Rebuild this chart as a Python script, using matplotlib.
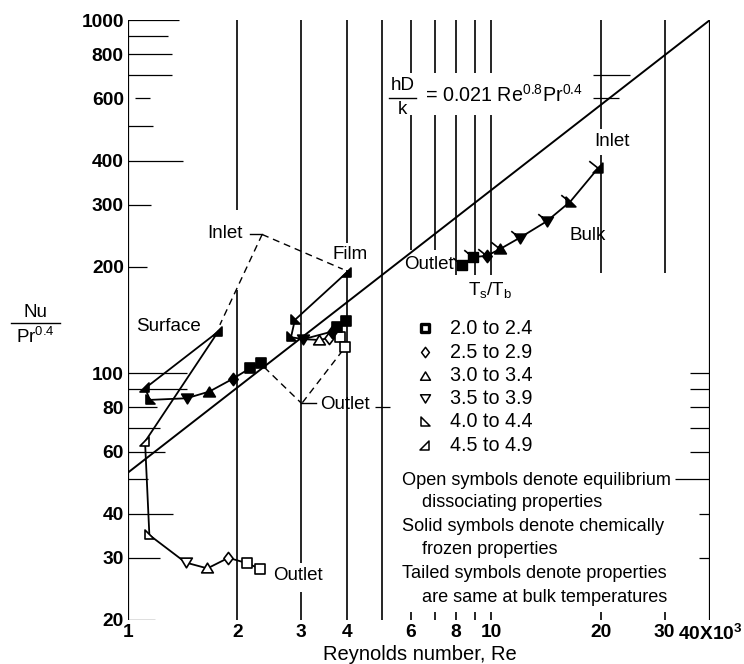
import numpy as np
import matplotlib
matplotlib.use("Agg")
import matplotlib.pyplot as plt
from matplotlib.path import Path
from matplotlib.lines import Line2D
from matplotlib.ticker import FixedLocator, FixedFormatter, NullLocator
from matplotlib import font_manager

_names = {f.name for f in font_manager.fontManager.ttflist}
NARROW = "Liberation Sans Narrow" if "Liberation Sans Narrow" in _names else "Liberation Sans"
TICK_SIZE = 14.5 if NARROW == "Liberation Sans Narrow" else 13.8

plt.rcParams["font.family"] = ["Liberation Sans", "DejaVu Sans"]
plt.rcParams["mathtext.default"] = "regular"

# ---------------------------------------------------------------------------
# Data: Reynolds number (x10^3) and Nu/Pr^0.4, with the Ts/Tb class of each point
# classes: a 2.0-2.4, b 2.5-2.9, c 3.0-3.4, d 3.5-3.9, e 4.0-4.4, f 4.5-4.9
# ---------------------------------------------------------------------------
bulk_re = [8.32, 8.92, 9.73, 10.6, 12.0, 14.2, 16.5, 19.7]
bulk_nu = [203, 213, 215, 225, 242, 269, 306, 381]
bulk_cls = ["a", "a", "b", "c", "d", "d", "e", "f"]

surf_frozen_re = [1.77, 1.114, 1.15, 1.45, 1.675, 1.94, 2.17, 2.325]
surf_frozen_nu = [131, 90.6, 84.0, 84.9, 88.7, 96.3, 103.3, 107.1]
surf_frozen_cls = ["f", "f", "e", "d", "c", "b", "a", "a"]

surf_equil_re = [1.77, 1.114, 1.145, 1.44, 1.654, 1.89, 2.13, 2.31]
surf_equil_nu = [131, 64.0, 34.8, 29.1, 28.0, 30.0, 28.95, 27.9]
surf_equil_cls = [None, "f", "e", "d", "c", "b", "a", "a"]

film_frozen_re = [4.0, 2.88, 2.81, 3.04, 3.64, 3.76, 3.99]
film_frozen_nu = [192.7, 141.5, 126.4, 124.8, 131.1, 135.4, 140.6]
film_frozen_cls = ["f", "e", "e", "d", "b", "a", "a"]

film_equil_re = [3.04, 3.345, 3.585, 3.837, 3.961]
film_equil_nu = [124.8, 124.2, 125.6, 126.4, 118.4]
film_equil_cls = [None, "c", "b", "a", "a"]

ts_classes = ["a", "b", "c", "d", "e", "f"]
ts_labels = ["2.0 to 2.4", "2.5 to 2.9", "3.0 to 3.4", "3.5 to 3.9", "4.0 to 4.4", "4.5 to 4.9"]

x_ticks = [1, 2, 3, 4, 6, 8, 10, 20, 30, 40]
x_tick_labels = ["1", "2", "3", "4", "6", "8", "10", "20", "30", "40X10$^3$"]
y_ticks = [20, 30, 40, 60, 80, 100, 200, 300, 400, 600, 800, 1000]
y_tick_labels = [str(v) for v in y_ticks]

# correlation hD/k = 0.021 Re^0.8 Pr^0.4 in the plotted units
line_re = np.array([1.0, 40.0])
line_nu = 52.3 * line_re ** 0.8

# ---------------------------------------------------------------------------
# Symbol shapes (unit half-size = 1) with an optional tail
# ---------------------------------------------------------------------------
SHAPES = {
    "a": [(-1, -1), (1, -1), (1, 1), (-1, 1)],
    "b": [(0, -1.25), (0.95, 0), (0, 1.25), (-0.95, 0)],
    "c": [(0, 1.1), (-1.2, -0.9), (1.2, -0.9)],
    "d": [(0, -1.1), (-1.2, 0.9), (1.2, 0.9)],
    "e": [(-0.9, 1.1), (-0.9, -0.9), (1.1, -0.9)],
    "f": [(0.9, 1.1), (0.9, -0.9), (-1.1, -0.9)],
}
TAIL = (-1.9, 1.5)
HALF = 3.5  # points per shape unit


def symbol(cls, tailed=False):
    verts = list(SHAPES[cls])
    v = verts + [verts[0]]
    c = [Path.MOVETO] + [Path.LINETO] * (len(verts) - 1) + [Path.CLOSEPOLY]
    if tailed:
        v += [(0, 0), TAIL]
        c += [Path.MOVETO, Path.LINETO]
    path = Path(v, c)
    ms = 2 * HALF * np.max(np.abs(path.vertices))
    return path, ms


W, H = 744, 664
fig = plt.figure(figsize=(W / 100, H / 100), dpi=100)
ax = fig.add_axes([128 / W, 44 / H, 582 / W, 600 / H])
ax.set_xscale("log")
ax.set_yscale("log")
ax.set_xlim(1, 40)
ax.set_ylim(20, 1000)
for s in ax.spines.values():
    s.set_visible(False)

ax.xaxis.set_major_locator(FixedLocator(x_ticks))
ax.xaxis.set_major_formatter(FixedFormatter(x_tick_labels))
ax.xaxis.set_minor_locator(NullLocator())
ax.yaxis.set_major_locator(FixedLocator(y_ticks))
ax.yaxis.set_major_formatter(FixedFormatter(y_tick_labels))
ax.yaxis.set_minor_locator(NullLocator())
ax.tick_params(axis="both", length=0, labelsize=TICK_SIZE)
ax.tick_params(axis="x", pad=3)
ax.tick_params(axis="y", pad=3)
for lbl in ax.get_xticklabels() + ax.get_yticklabels():
    lbl.set_fontfamily(NARROW)
    lbl.set_fontweight("bold")

# ---------------------------------------------------------------------------
# Partial grid: vertical rulings (x, y from, y to) and horizontal rulings
# ---------------------------------------------------------------------------
v_rules = [
    (1, 20, 1000), (40, 20, 1000),
    (2, 290, 1000), (2, 20, 172),
    (3, 29, 1000), (3, 20, 24),
    (4, 233, 1000), (4, 20, 196),
    (5, 20, 1000),
    (20, 491, 1000), (20, 192, 415), (30, 192, 1000),
    (6, 223, 539), (7, 223, 539), (8, 190, 539), (9, 190, 539), (10, 190, 539),
]
for xv in (6, 7, 8, 9, 10):
    v_rules.append((xv, 707, 1000))
for xv in (6, 7, 8, 9, 10, 20, 30):
    v_rules.append((xv, 20, 21.1))
for xv, y0, y1 in v_rules:
    lw = 1.6 if xv in (1, 40) else 1.2
    ax.plot([xv, xv], [y0, y1], color="k", lw=lw, solid_capstyle="butt", zorder=1)

h_rules = [
    (1000, 1, 1.382), (900, 1, 1.289), (800, 1, 1.322), (700, 1, 1.322),
    (600, 1.045, 1.15), (500, 1, 1.172), (400, 1, 1.417), (300, 1, 1.157),
    (200, 1, 1.128), (100, 1, 1.454), (90, 1, 1.454), (80, 1, 1.202),
    (70, 1, 1.225), (60, 1, 1.264), (50, 1, 1.135), (40, 1, 1.33),
    (30, 1, 1.225), (20, 1, 1.187),
    (100, 35.3, 40), (90, 35.3, 40), (80, 35.3, 40), (70, 35.3, 40),
    (60, 35.3, 40), (50, 32.1, 40), (40, 37.4, 40), (30, 37.4, 40),
    (700, 19.1, 24.1), (600, 19.1, 22.4), (80, 4.79, 5.27),
]
for yv, x0, x1 in h_rules:
    ax.plot([x0, x1], [yv, yv], color="k", lw=0.9, solid_capstyle="butt", zorder=1)

# correlation line
ax.plot(line_re, line_nu, color="k", lw=1.4, zorder=2)


# ---------------------------------------------------------------------------
# Data curves
# ---------------------------------------------------------------------------
def draw_series(re, nu, cls, filled, tailed=False):
    ax.plot(re, nu, color="k", lw=1.3, zorder=3)
    for x, y, c in zip(re, nu, cls):
        if c is None:
            continue
        path, ms = symbol(c, tailed)
        ax.plot([x], [y], ls="none", marker=path, ms=ms,
                mfc="k" if filled else "white", mec="k", mew=1.2, zorder=4)


draw_series(surf_equil_re, surf_equil_nu, surf_equil_cls, filled=False)
draw_series(surf_frozen_re, surf_frozen_nu, surf_frozen_cls, filled=True)
draw_series(film_equil_re, film_equil_nu, film_equil_cls, filled=False)
draw_series(film_frozen_re, film_frozen_nu, film_frozen_cls, filled=True)
draw_series(bulk_re, bulk_nu, bulk_cls, filled=True, tailed=True)

# ---------------------------------------------------------------------------
# Annotations
# ---------------------------------------------------------------------------
TXT = 13.5
dash = dict(color="k", lw=1.0, ls=(0, (5, 3.5)), zorder=2)

ax.text(1.85, 249, "Inlet", fontsize=TXT, ha="center", va="center")
ax.plot([2.17, 2.34], [247, 247], color="k", lw=1.0)
ax.plot([2.34, 1.79], [247, 137], **dash)
ax.plot([2.34, 3.9], [247, 197], **dash)
ax.text(4.09, 217, "Film", fontsize=TXT, ha="center", va="center")
ax.text(1.29, 135.5, "Surface", fontsize=TXT, ha="center", va="center")

ax.plot([2.37, 2.99], [104, 82.5], **dash)
ax.plot([3.02, 3.9], [82.5, 116], **dash)
ax.plot([2.99, 3.3], [82.5, 82.5], color="k", lw=1.0)
ax.text(3.38, 81.5, "Outlet", fontsize=TXT, ha="left", va="center")

ax.text(7.87, 203, "Outlet", fontsize=TXT, ha="right", va="center")
ax.text(21.5, 452, "Inlet", fontsize=TXT, ha="center", va="center")
ax.text(18.4, 245, "Bulk", fontsize=TXT, ha="center", va="center")
ax.text(2.51, 26.8, "Outlet", fontsize=TXT, ha="left", va="center")

# correlation label
ax.text(5.7, 652, "hD", fontsize=TXT, ha="center", va="center")
ax.plot([5.24, 6.22], [602, 602], color="k", lw=1.0)
ax.text(5.7, 559, "k", fontsize=TXT, ha="center", va="center")
ax.text(6.55, 612, r"= 0.021 Re$^{0.8}$Pr$^{0.4}$", fontsize=14.2, ha="left", va="center")

# symbol key
ax.text(9.94, 172, r"T$_s$/T$_b$", fontsize=TXT, ha="center", va="center")
key_y = [134.0, 114.5, 98.3, 85.0, 72.8, 62.3]
for c, lab, yk in zip(ts_classes, ts_labels, key_y):
    path, ms = symbol(c)
    mew = 2.4 if c == "a" else 1.1
    ax.plot([6.59], [yk], ls="none", marker=path, ms=ms * 0.85, mfc="white",
            mec="k", mew=mew, zorder=4)
    ax.text(7.70, yk, lab, fontsize=14.2, ha="left", va="center")

notes = [
    (5.69, 49.7, "Open symbols denote equilibrium"),
    (6.45, 42.9, "dissociating properties"),
    (5.69, 36.7, "Solid symbols denote chemically"),
    (6.45, 31.6, "frozen properties"),
    (5.69, 27.0, "Tailed symbols denote properties"),
    (6.45, 23.2, "are same at bulk temperatures"),
]
for xn, yn, t in notes:
    ax.text(xn, yn, t, fontsize=13.1, ha="left", va="center")

# axis titles
fig.text(420 / W, 1 - 655 / H, "Reynolds number, Re", fontsize=14.5, ha="center", va="center")
fig.text(35 / W, 1 - 312 / H, "Nu", fontsize=TXT, ha="center", va="center")
fig.add_artist(Line2D([11 / W, 60 / W], [1 - 323 / H, 1 - 323 / H], color="k", lw=1.0))
fig.text(35 / W, 1 - 337 / H, r"Pr$^{0.4}$", fontsize=TXT, ha="center", va="center")

fig.savefig("out.png", dpi=100)
